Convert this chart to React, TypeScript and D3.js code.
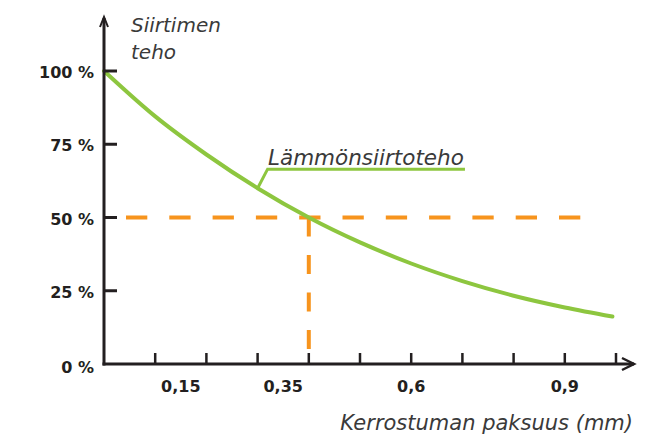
import * as d3 from 'd3'

// kerrostuman paksuus (mm) ja siirtimen teho (%)
const thickness = [0, 0.1, 0.2, 0.3, 0.4, 0.5, 0.6, 0.7, 0.8, 0.9, 0.993]
const efficiency = [100, 84.5, 71.5, 60, 50, 41.5, 34.3, 28.3, 23.3, 19.3, 16.2]

const xTicks = [0.1, 0.2, 0.3, 0.4, 0.5, 0.6, 0.7, 0.8, 0.9, 1.0]
const xLabels = [0.15, 0.35, 0.6, 0.9]
const xLabelText = ['0,15', '0,35', '0,6', '0,9']
const yTicks = [0, 25, 50, 75, 100]
const yLabelText = ['0 %', '25 %', '50 %', '75 %', '100 %']

// 50 % raja ja sitä vastaava paksuus
const halfLevel = 50
const halfThickness = 0.4

export default function App() {
    const width = 664
    const height = 435

    const xScale = d3.scaleLinear().domain([0, 1]).range([104, 616])
    const yScale = d3.scaleLinear().domain([0, 100]).range([364, 71])

    const points = thickness.map((t, i) => [t, efficiency[i]] as [number, number])
    const line = d3.line<[number, number]>()
        .x(d => xScale(d[0]))
        .y(d => yScale(d[1]))
        .curve(d3.curveMonotoneX)

    const axisColor = '#231f20'
    const textColor = '#3a3a3a'
    const green = '#8dc63f'
    const orange = '#f7941d'
    const font = '"DejaVu Sans", sans-serif'

    // selitteen viiva lähtee käyrältä kohdasta 0,3 mm
    const labelAt = 0.3
    const lx = xScale(labelAt)
    const ly = yScale(d3.scaleLinear().domain(thickness).range(efficiency)(labelAt))
    const elbowY = yScale(66.5)

    const x0 = xScale(0)
    const y0 = yScale(0)

    return (
        <svg width={width} height={height} style={{ position: 'absolute', left: 0, top: 0, background: '#fff' }}>
            {/* vaakasuora katkoviiva 50 % */}
            <line x1={x0} x2={xScale(0.935)} y1={yScale(halfLevel)} y2={yScale(halfLevel)}
                stroke={orange} strokeWidth={4} strokeDasharray="21.3 22" strokeDashoffset={21.3} />
            {/* pystysuora katkoviiva */}
            <line x1={xScale(halfThickness)} x2={xScale(halfThickness)} y1={yScale(halfLevel)} y2={yScale(5)}
                stroke={orange} strokeWidth={4} strokeDasharray="19 18.5" />

            <path d={line(points) ?? ''} fill="none" stroke={green} strokeWidth={4} strokeLinecap="round" />

            {/* selite */}
            <polyline points={`${lx},${ly} ${lx + 10},${elbowY} ${xScale(0.705)},${elbowY}`}
                fill="none" stroke={green} strokeWidth={3} />
            <text x={268} y={165} fontFamily={font} fontStyle="italic" fontSize={21.5} fill={textColor}>Lämmönsiirtoteho</text>

            {/* akselit */}
            <line x1={x0} x2={x0} y1={y0 + 1.5} y2={18} stroke={axisColor} strokeWidth={3} />
            <polyline points={`${x0 - 4},27 ${x0},17 ${x0 + 4},27`} fill="none" stroke={axisColor} strokeWidth={2} />
            <line x1={x0 - 1.5} x2={634} y1={y0} y2={y0} stroke={axisColor} strokeWidth={3} />
            <polyline points={`622,358 634,${y0} 622,370`} fill="none" stroke={axisColor} strokeWidth={2.5} />

            {yTicks.filter(t => t > 0).map(t => (
                <line key={t} x1={x0} x2={x0 + 13} y1={yScale(t)} y2={yScale(t)} stroke={axisColor} strokeWidth={3} />
            ))}
            {xTicks.map(t => (
                <line key={t} x1={xScale(t)} x2={xScale(t)} y1={y0} y2={y0 - 11} stroke={axisColor} strokeWidth={2.5} />
            ))}

            {yTicks.map((t, i) => (
                <text key={t} x={94} y={yScale(t) + (t === 0 ? 9 : 7)} textAnchor="end"
                    fontFamily={font} fontWeight="bold" fontSize={16} fill={axisColor}>{yLabelText[i]}</text>
            ))}
            {xLabels.map((t, i) => (
                <text key={t} x={xScale(t)} y={392} textAnchor="middle"
                    fontFamily={font} fontWeight="bold" fontSize={16} fill={axisColor}>{xLabelText[i]}</text>
            ))}

            <text x={131} y={32} fontFamily={font} fontStyle="italic" fontSize={20} fill={textColor}>Siirtimen</text>
            <text x={131} y={59} fontFamily={font} fontStyle="italic" fontSize={20} fill={textColor}>teho</text>
            <text x={633} y={430} textAnchor="end" fontFamily={font} fontStyle="italic" fontSize={21} fill={textColor}>Kerrostuman paksuus (mm)</text>
        </svg>
    )
}
